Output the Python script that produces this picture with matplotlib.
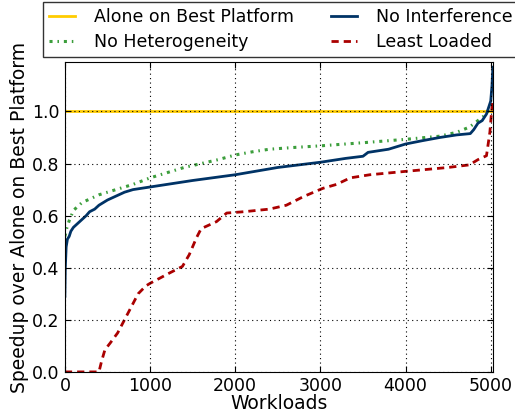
import matplotlib
matplotlib.use("Agg")
import matplotlib.pyplot as plt

# ---- data ----
best_x = [0, 5025]
best_y = [1.0, 1.0]

noint_x = [0, 5, 15, 30, 50, 70, 100, 150, 200, 250, 290, 350, 400, 500, 600, 700, 800,
           1000, 1500, 2000, 2500, 3000, 3300, 3500, 3560, 3800, 4000, 4200, 4400, 4600,
           4760, 4800, 4850, 4900, 4950, 4980, 5000, 5015, 5025]
noint_y = [0.29, 0.40, 0.48, 0.51, 0.52, 0.54, 0.555, 0.57, 0.585, 0.60, 0.615, 0.625, 0.64,
           0.66, 0.675, 0.69, 0.70, 0.71, 0.735, 0.757, 0.785, 0.805, 0.82, 0.828, 0.843,
           0.855, 0.875, 0.888, 0.90, 0.91, 0.915, 0.93, 0.955, 0.965, 0.99, 1.02, 1.04,
           1.10, 1.17]

nohet_x = [0, 20, 50, 100, 200, 300, 400, 600, 800, 1000, 1200, 1400, 1600, 1800, 2000,
           2200, 2400, 2700, 3000, 3500, 4000, 4400, 4600, 4750, 4850, 4950, 5025]
nohet_y = [0.52, 0.55, 0.58, 0.62, 0.65, 0.665, 0.68, 0.70, 0.72, 0.745, 0.765, 0.785, 0.80,
           0.815, 0.833, 0.845, 0.855, 0.862, 0.868, 0.88, 0.893, 0.905, 0.92, 0.94, 0.965,
           0.99, 1.04]

least_x = [0, 400, 430, 470, 530, 620, 700, 780, 860, 950, 1000, 1230, 1380, 1460, 1545,
           1600, 1700, 1780, 1900, 2100, 2400, 2600, 2800, 3030, 3190, 3350, 3580, 4000,
           4500, 4750, 4850, 4950, 4990, 5010, 5025]
least_y = [0.0, 0.0, 0.04, 0.085, 0.11, 0.15, 0.20, 0.25, 0.30, 0.33, 0.34, 0.38, 0.405,
           0.45, 0.515, 0.55, 0.565, 0.577, 0.61, 0.615, 0.625, 0.64, 0.673, 0.705, 0.72,
           0.745, 0.757, 0.77, 0.785, 0.795, 0.815, 0.83, 0.92, 1.0, 1.05]

xticks = [0, 1000, 2000, 3000, 4000, 5000]
yticks = [0.0, 0.2, 0.4, 0.6, 0.8, 1.0]

plt.rcParams['font.family'] = ['DejaVu Sans']
fig = plt.figure(figsize=(5.15, 4.16), dpi=100)
ax = fig.add_axes([0.126, 0.106, 0.831, 0.745])
ax.set_axisbelow(False)

l1, = ax.plot(best_x, best_y, color='#FFCC00', lw=2, label='Alone on Best Platform')
l3, = ax.plot(nohet_x, nohet_y, color='#3C9E3C', lw=2.2, linestyle=(0, (1, 1.6, 0.5, 1.6)),
              label='No Heterogeneity')
l4, = ax.plot(least_x, least_y, color='#AA0000', lw=2, linestyle=(0, (2.6, 1.8)),
              label='Least Loaded')
l2, = ax.plot(noint_x, noint_y, color='#003366', lw=2, label='No Interference')

ax.set_xlim(0, 5025)
ax.set_ylim(0, 1.19)
ax.set_xticks(xticks)
ax.set_yticks(yticks)
ax.set_yticklabels([f"{v:.1f}" for v in yticks])
ax.grid(True, color='black', linestyle=(0, (1, 3)), linewidth=0.8)
ax.tick_params(direction='in', top=True, right=True, length=4, labelsize=12.5, pad=4)
ax.set_xlabel('Workloads', fontsize=13.5, labelpad=-1)
ax.set_ylabel('Speedup over Alone on Best Platform', fontsize=13.5, labelpad=2)

fig.legend(handles=[l1, l3, l2, l4], ncol=2, loc='upper left',
           bbox_to_anchor=(43 / 515, 1 - 2 / 416), fontsize=12.5,
           frameon=True, fancybox=False, edgecolor='black', handlelength=1.5,
           handletextpad=1.1, columnspacing=2.1, borderpad=0.35, labelspacing=0.42,
           borderaxespad=0)

fig.savefig('out.png', dpi=100)
